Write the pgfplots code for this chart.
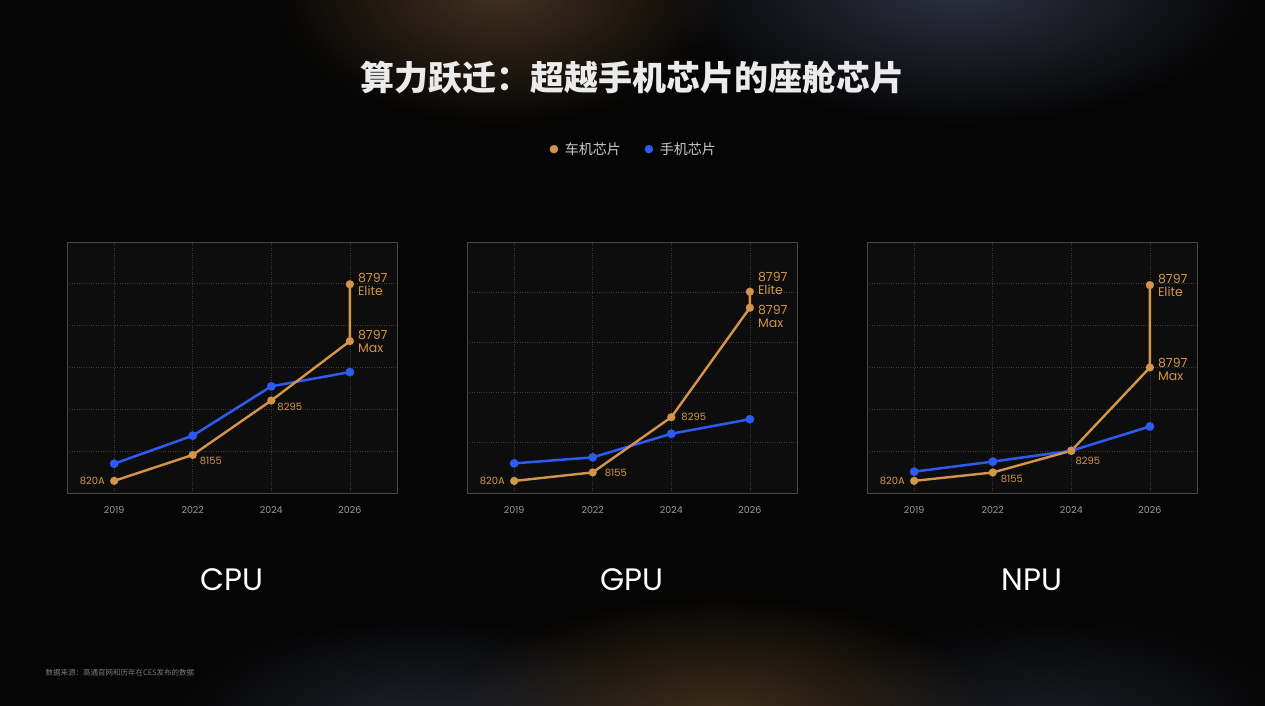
\documentclass[border=0pt]{standalone}
\usepackage{pgfplots}
\pgfplotsset{compat=1.18}
\usepackage{fontspec}
\setmainfont{Noto Sans CJK SC}
\newfontfamily\lat{Poppins}
\usetikzlibrary{fadings}
\definecolor{bgc}{HTML}{050505}
\definecolor{plotbg}{HTML}{0D0D0D}
\definecolor{framec}{HTML}{474747}
\definecolor{gridc}{HTML}{3A3A3A}
\definecolor{carc}{HTML}{D4954B}
\definecolor{phonec}{HTML}{2D5BF2}
\definecolor{tickc}{HTML}{9B9B9B}
\definecolor{legc}{HTML}{C9C9C9}
\definecolor{footc}{HTML}{7A7A7A}
\tikzfading[name=glow, inner color=transparent!0, outer color=transparent!100]
\pgfplotsset{
  panel/.style={
    scale only axis, width=330pt, height=251pt, anchor=south west,
    xmin=-0.6, xmax=3.6, ymin=0,
    axis background/.style={fill=plotbg},
    axis line style={draw=framec, line width=0.8pt},
    xtick={0,1,2,3}, xticklabels={2019,2022,2024,2026},
    major tick length=0pt,
    xticklabel style={font=\lat\fontsize{9.5}{9.5}\selectfont, text=tickc, yshift=-10pt},
    yticklabels={},
    grid=major, major grid style={draw=gridc, dotted, line width=0.7pt},
    clip=false,
  },
  car/.style={draw=carc, line width=2.4pt, mark=*, mark size=4pt, mark options={fill=carc, draw=carc, line width=0.1pt}},
  phone/.style={draw=phonec, line width=2.5pt, mark=*, mark size=4.3pt, mark options={fill=phonec, draw=phonec, line width=0.1pt}},
}
\tikzset{
  lbl/.style={font=\lat\fontsize{10}{10}\selectfont, text=carc, inner sep=0pt},
  big/.style={font=\lat\fontsize{12.5}{13}\selectfont, text=carc, inner sep=0pt, align=left, anchor=west},
  ptitle/.style={font=\lat\fontsize{31}{31}\selectfont, text=white},
}
\begin{document}
\begin{tikzpicture}
\useasboundingbox (0pt,0pt) rectangle (1265pt,706pt);
\fill[bgc] (0pt,0pt) rectangle (1265pt,706pt);
\begin{scope}
\clip (0pt,0pt) rectangle (1265pt,706pt);
\fill[color={rgb,255:red,95;green,70;blue,45}, path fading=glow, opacity=0.7] (500pt,720pt) ellipse (230pt and 140pt);
\fill[color={rgb,255:red,60;green,66;blue,85}, path fading=glow, opacity=0.75] (960pt,720pt) ellipse (300pt and 140pt);
\fill[color={rgb,255:red,110;green,80;blue,45}, path fading=glow, opacity=0.6] (720pt,-20pt) ellipse (280pt and 130pt);
\fill[color={rgb,255:red,50;green,55;blue,70}, path fading=glow, opacity=0.6] (420pt,-20pt) ellipse (250pt and 110pt);
\fill[color={rgb,255:red,50;green,55;blue,70}, path fading=glow, opacity=0.5] (1050pt,-20pt) ellipse (250pt and 110pt);
\end{scope}

\node[font=\bfseries\fontsize{34}{34}\selectfont, text={rgb,255:red,235;green,235;blue,235}] at (632pt,628pt) {算力跃迁：超越手机芯片的座舱芯片};
\node[anchor=west, font=\fontsize{7.5}{8}\selectfont, text=footc] at (42pt,33pt) {数据来源：高通官网和历年在CES发布的数据};

% CPU
\begin{axis}[panel, at={(67pt,213pt)}, ymax=6, ytick={1,2,3,4,5},
  legend style={at={(1.718,1.370)}, anchor=center, draw=none, fill=none,
    font=\fontsize{14}{14}\selectfont, text=legc, legend columns=2,
    /tikz/every odd column/.append style={column sep=5pt},
    /tikz/every even column/.append style={column sep=22pt}},
  legend cell align=left]
\addlegendimage{only marks, mark=*, mark size=4pt, carc}
\addlegendentry{车机芯片}
\addlegendimage{only marks, mark=*, mark size=4pt, phonec}
\addlegendentry{手机芯片}
\addplot[phone, forget plot] coordinates {(0,0.70)(1,1.37)(2,2.55)(3,2.89)};
\addplot[car, forget plot] coordinates {(0,0.29)(1,0.91)(2,2.21)(3,3.63)(3,4.99)};
\node[lbl, anchor=east, xshift=-9pt] at (axis cs:0,0.29) {820A};
\node[lbl, anchor=west, xshift=7pt, yshift=-6pt] at (axis cs:1,0.91) {8155};
\node[lbl, anchor=west, xshift=6pt, yshift=-6pt] at (axis cs:2,2.21) {8295};
\node[big, xshift=8pt] at (axis cs:3,4.99) {8797\\Elite};
\node[big, xshift=8pt] at (axis cs:3,3.63) {8797\\Max};
\node[ptitle] at (rel axis cs:0.5,-0.347) {CPU};
\end{axis}

% GPU
\begin{axis}[panel, at={(467pt,213pt)}, ymax=5, ytick={1,2,3,4}]
\addplot[phone] coordinates {(0,0.59)(1,0.71)(2,1.18)(3,1.47)};
\addplot[car] coordinates {(0,0.24)(1,0.41)(2,1.51)(3,3.69)(3,4.01)};
\node[lbl, anchor=east, xshift=-9pt] at (axis cs:0,0.24) {820A};
\node[lbl, anchor=west, xshift=12pt, yshift=-1pt] at (axis cs:1,0.41) {8155};
\node[lbl, anchor=west, xshift=10pt] at (axis cs:2,1.51) {8295};
\node[big, xshift=8pt, yshift=8pt] at (axis cs:3,4.01) {8797\\Elite};
\node[big, xshift=8pt, yshift=-9pt] at (axis cs:3,3.69) {8797\\Max};
\node[ptitle] at (rel axis cs:0.5,-0.347) {GPU};
\end{axis}

% NPU
\begin{axis}[panel, at={(867pt,213pt)}, ymax=6, ytick={1,2,3,4,5}]
\addplot[phone] coordinates {(0,0.51)(1,0.75)(2,1.01)(3,1.59)};
\addplot[car] coordinates {(0,0.29)(1,0.49)(2,1.01)(3,3.00)(3,4.97)};
\node[lbl, anchor=east, xshift=-9pt] at (axis cs:0,0.29) {820A};
\node[lbl, anchor=west, xshift=8pt, yshift=-6pt] at (axis cs:1,0.49) {8155};
\node[lbl, anchor=west, xshift=4pt, yshift=-10pt] at (axis cs:2,1.01) {8295};
\node[big, xshift=8pt] at (axis cs:3,4.97) {8797\\Elite};
\node[big, xshift=8pt, yshift=-2pt] at (axis cs:3,3.00) {8797\\Max};
\node[ptitle] at (rel axis cs:0.5,-0.347) {NPU};
\end{axis}
\end{tikzpicture}
\end{document}
